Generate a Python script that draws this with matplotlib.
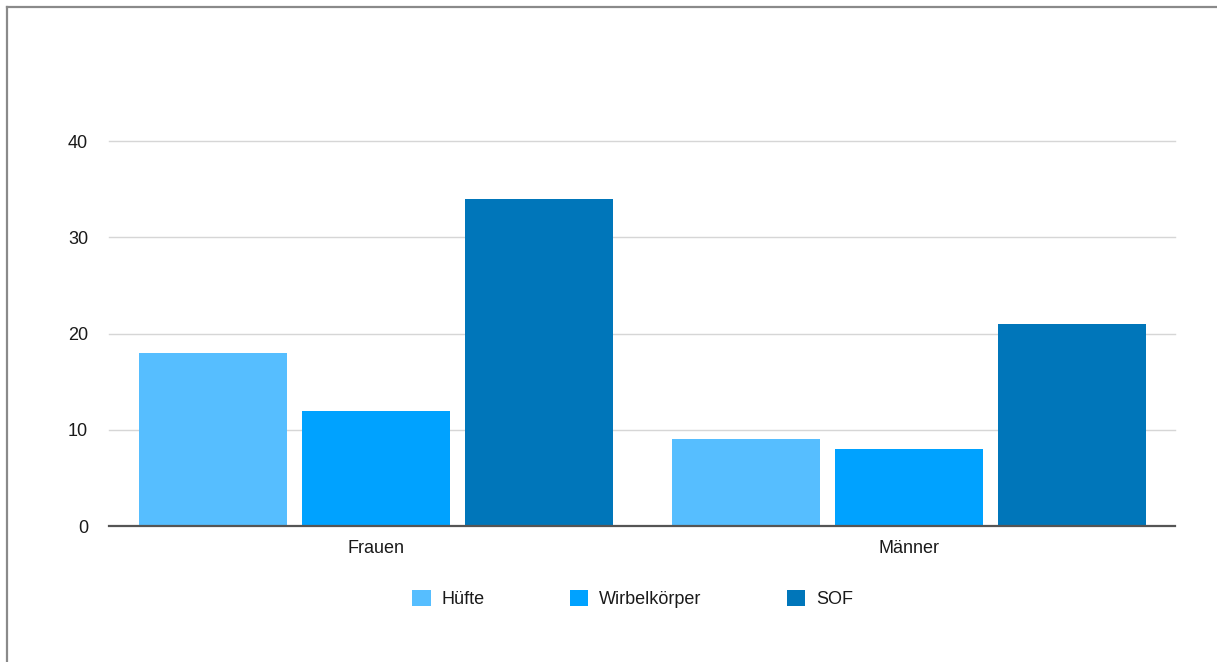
import numpy as np
import matplotlib.pyplot as plt
from matplotlib.lines import Line2D

plt.rcParams['font.family'] = ['Liberation Sans', 'DejaVu Sans']

groups = ['Frauen', 'Männer']
series = ['Hüfte', 'Wirbelkörper', 'SOF']
values = {
    'Hüfte': [18, 9],
    'Wirbelkörper': [12, 8],
    'SOF': [34, 21],
}
colors = ['#56BEFF', '#00A2FF', '#0076BA']
yticks = [0, 10, 20, 30, 40]

fig = plt.figure(figsize=(12.17, 6.62), dpi=100)
ax = fig.add_axes([0.0896, 0.2054, 0.8759, 0.5816])

x = np.arange(len(groups))
bar_w = 148 / 533
step = 163 / 533
for i, (name, c) in enumerate(zip(series, colors)):
    ax.bar(x + (i - 1) * step, values[name], width=bar_w, color=c,
           label=name, zorder=2, linewidth=0)

ax.set_xlim(-0.5, 1.5)
ax.set_ylim(0, 40)
ax.set_yticks(yticks)
ax.set_xticks(x)
ax.set_xticklabels(groups)
ax.tick_params(length=0, labelsize=13, colors='#1A1A1A')
ax.tick_params(axis='y', pad=15)
ax.tick_params(axis='x', pad=10)
for s in ['top', 'right', 'left']:
    ax.spines[s].set_visible(False)
ax.spines['bottom'].set_color('#555555')
ax.spines['bottom'].set_linewidth(1.6)
ax.spines['bottom'].set_zorder(3)
for t in yticks[1:]:
    ax.axhline(t, color='#D6D6D6', linewidth=1.0, zorder=1, clip_on=False)

leg = fig.legend(loc='center', bbox_to_anchor=(0.52, 0.0955), ncol=3,
                 frameon=False, fontsize=13, handlelength=1.0, handleheight=1.0,
                 handletextpad=0.6, columnspacing=4.75)
for txt in leg.get_texts():
    txt.set_color('#1A1A1A')

# grey frame on the top and left edges
fig.add_artist(Line2D([7 / 1217, 7 / 1217], [0, 1 - 7 / 662],
                      transform=fig.transFigure, color='#8A8A8A', linewidth=1.6))
fig.add_artist(Line2D([7 / 1217, 1], [1 - 7 / 662, 1 - 7 / 662],
                      transform=fig.transFigure, color='#8A8A8A', linewidth=1.6))

fig.savefig('out.png', dpi=100)
